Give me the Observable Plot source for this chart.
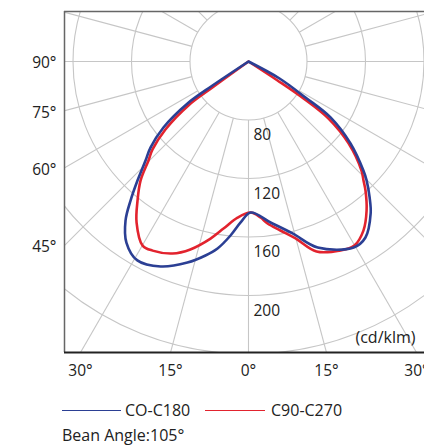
<!DOCTYPE html>
<html>
<head>
<meta charset="utf-8">
<script src="https://cdn.jsdelivr.net/npm/d3@7"></script>
<script src="https://cdn.jsdelivr.net/npm/@observablehq/plot@0.6"></script>
<style>
  html, body { margin: 0; padding: 0; background: #fff; }
  body { width: 424px; height: 445px; overflow: hidden; font-family: "Open Sans", sans-serif; color: #222; }
  #legend { position: relative; width: 424px; height: 55px; font-size: 16px; }
  #legend .sw { position: absolute; height: 1.6px; }
  #legend .lb { position: absolute; line-height: 20px; white-space: nowrap; }
</style>
</head>
<body>
<div id="chart"></div>
<div id="legend"></div>
<script>
// ---------------- data ----------------
const seriesNames = ["CO-C180", "C90-C270"];
const seriesColors = ["#2b3f94", "#e2232e"];

// C0-C180 (blue): angle from nadir (deg, left negative) and intensity (cd/klm)
const c0Angles = [-90, -56.3, -55.5, -52.2, -48.7, -46.1, -43.0, -40.3, -37.7, -34.0, -29.2, -23.2, -16.9, -12.5, -9.4, -5.9, -2.8, 0.8, 7.8, 14.4, 20.4, 29.5, 33.6, 38.8, 41.7, 44.8, 46.5, 51.2, 55.7, 57.7, 61.3, 90];
const c0Values = [0, 69.6, 90.6, 113.6, 129.2, 137.7, 151.3, 164.7, 177.5, 189.3, 195.8, 192.5, 183.7, 175.9, 169.6, 159.6, 150.2, 143.3, 151.1, 161.4, 175.7, 186.1, 184.5, 173.3, 164.5, 154.6, 148.3, 129.5, 107.9, 86.1, 64.2, 0];

// C90-C270 (red)
const c90Angles = [-90, -54.2, -53.8, -50.7, -47.5, -45.3, -42.2, -38.6, -34.8, -29.9, -26.9, -21.6, -17.2, -12.1, -8.5, -4.0, 0.8, 4.4, 6.7, 10.7, 14.9, 19.7, 26.0, 29.9, 34.2, 38.4, 42.2, 44.0, 46.0, 50.7, 54.5, 56.1, 56.8, 90];
const c90Values = [0, 70.4, 90.9, 113.4, 129.0, 136.2, 149.9, 161.6, 174.1, 185.2, 185.0, 181.2, 174.5, 163.8, 155.5, 147.0, 143.3, 147.0, 151.5, 157.6, 165.2, 178.0, 183.7, 185.2, 179.8, 170.0, 159.1, 153.2, 147.4, 128.4, 107.2, 85.3, 63.7, 0];

const ringValues = [80, 120, 160, 200, 240];
const ringLabels = [80, 120, 160, 200];
const spokeAngles = [-165, -150, -135, -120, -105, -90, -75, -60, -45, -30, -15, 0, 15, 30, 45, 60, 75, 90, 105, 120, 135, 150, 165, 180];
const sideTicks = [-90, -75, -60, -45];
const bottomTicks = [-30, -15, 0, 15, 30];
const unitLabel = "(cd/klm)";
const beamLabel = "Bean Angle:105°";

// ---------------- layout ----------------
const W = 424, H = 390;
const M = {top: 11, right: 0, bottom: 38, left: 64};
const CX = 248, CY = 61;           // pole position in pixels
const xDom = [M.left - CX, W - M.right - CX];
const yDom = [M.top - CY, H - M.bottom - CY];
const frameHalf = CX - M.left;     // distance pole -> left frame
const frameDown = H - M.bottom - CY; // distance pole -> bottom frame

// radial scale: value (cd/klm) -> pixels from pole
const rPx = d3.scaleLinear().domain([40, 80]).range([0, 58.5]);
const radius = v => Math.max(0, rPx(v));
const rad = a => a * Math.PI / 180;
const px = (a, v) => radius(v) * Math.sin(rad(a));
const py = (a, v) => radius(v) * Math.cos(rad(a));

const rows = (angles, values, name) => angles.map((a, i) => ({series: name, angle: a, value: values[i]}));
const blue = rows(c0Angles, c0Values, seriesNames[0]);
const red = rows(c90Angles, c90Values, seriesNames[1]);

const gridColor = "#c6c6c6";
const rOuter = 480;

const marks = [];
// rings
ringValues.forEach(v => marks.push(Plot.dot([v], {x: () => 0, y: () => 0, r: rPx(v), stroke: gridColor, strokeWidth: 1.1, fill: "none", clip: "frame"})));
// spokes
marks.push(Plot.link(spokeAngles, {
  x1: a => px(a, ringValues[0]), y1: a => py(a, ringValues[0]),
  x2: a => px(a, rOuter), y2: a => py(a, rOuter),
  stroke: gridColor, strokeWidth: 1.1, clip: "frame"
}));
// curves
const lineOpts = {curve: "catmull-rom", strokeWidth: 2.6, strokeLinejoin: "miter", clip: "frame"};
marks.push(Plot.line(red, {...lineOpts, x: d => px(d.angle, d.value), y: d => py(d.angle, d.value), stroke: seriesColors[1]}));
marks.push(Plot.line(blue, {...lineOpts, x: d => px(d.angle, d.value), y: d => py(d.angle, d.value), stroke: seriesColors[0]}));
// frame
marks.push(Plot.ruleX([xDom[0]], {stroke: "#666", strokeWidth: 1.5}));
marks.push(Plot.ruleY([yDom[0]], {stroke: "#666", strokeWidth: 1.5}));
marks.push(Plot.ruleY([yDom[1]], {stroke: "#222", strokeWidth: 2}));
// ring labels
marks.push(Plot.text(ringLabels, {x: () => 0, y: v => rPx(v), text: v => String(v), dx: 5, dy: 9, textAnchor: "start", lineAnchor: "top", fontSize: 15.5, fill: "#222"}));
// side angle labels
marks.push(Plot.text(sideTicks, {
  x: () => xDom[0], y: a => frameHalf / Math.tan(rad(Math.abs(a))),
  text: a => `${Math.abs(a)}°`, textAnchor: "end", dx: -8, dy: 2, fontSize: 15.5, fill: "#222"
}));
// bottom angle labels
marks.push(Plot.text(bottomTicks, {
  x: a => frameDown * Math.tan(rad(a)), y: () => yDom[1],
  text: a => `${Math.abs(a)}°`, textAnchor: "middle", dy: 19, fontSize: 15.5, fill: "#222"
}));
// unit
marks.push(Plot.text([unitLabel], {text: d => d, frameAnchor: "bottom-right", dx: -9, dy: -15, textAnchor: "end", lineAnchor: "middle", fontSize: 16, fill: "#222"}));

const chart = Plot.plot({
  width: W, height: H,
  marginTop: M.top, marginRight: M.right, marginBottom: M.bottom, marginLeft: M.left,
  x: {domain: xDom, axis: null},
  y: {domain: yDom, reverse: true, axis: null},
  style: {fontFamily: "'Open Sans', sans-serif", fontSize: "15px", color: "#222", background: "#fff", overflow: "hidden"},
  marks
});
document.getElementById("chart").appendChild(chart);

// legend
const lg = document.getElementById("legend");
const legendItems = [
  {sw: 62, swW: 59, tx: 125},
  {sw: 205, swW: 60, tx: 271}
];
seriesNames.forEach((name, i) => {
  const s = document.createElement("div");
  s.className = "sw";
  s.style.left = legendItems[i].sw + "px";
  s.style.width = legendItems[i].swW + "px";
  s.style.top = "19.5px";
  s.style.background = seriesColors[i];
  lg.appendChild(s);
  const t = document.createElement("div");
  t.className = "lb";
  t.style.left = legendItems[i].tx + "px";
  t.style.top = "10px";
  t.textContent = name;
  lg.appendChild(t);
});
const b = document.createElement("div");
b.className = "lb";
b.style.left = "62px";
b.style.top = "35px";
b.textContent = beamLabel;
lg.appendChild(b);
</script>
</body>
</html>
